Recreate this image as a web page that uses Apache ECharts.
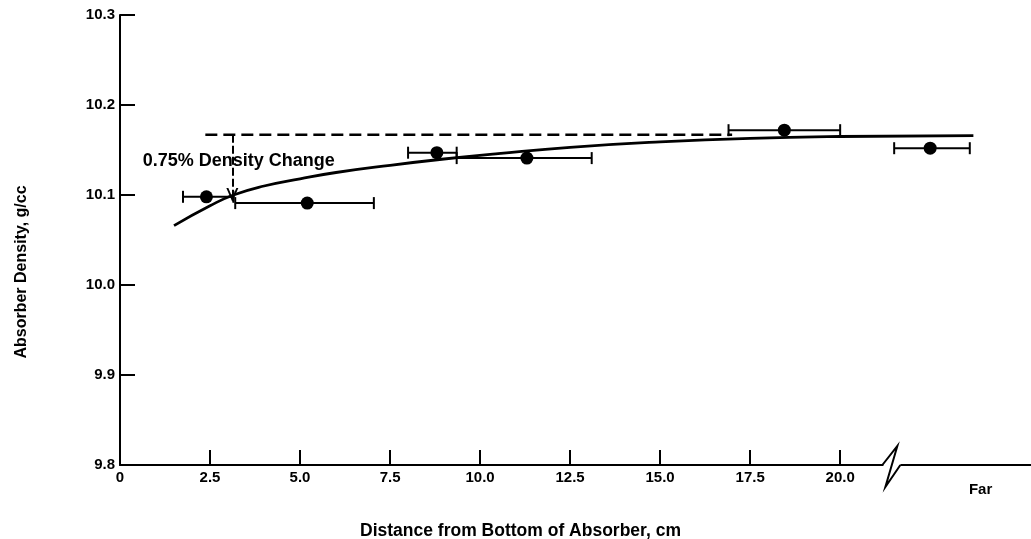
<!DOCTYPE html>
<html>
<head>
<meta charset="utf-8">
<script src="https://cdn.jsdelivr.net/npm/echarts@6/dist/echarts.min.js"></script>
<style>
  html, body { margin: 0; padding: 0; background: #fff; }
  #chart { width: 1031px; height: 539px; }
</style>
</head>
<body>
<div id="chart"></div>
<script>
// measured points with horizontal error bars
const distance = [2.4, 5.2, 8.8, 11.3, 18.45, 22.5]
const density = [10.098, 10.091, 10.147, 10.141, 10.172, 10.152]
const errLow = [1.75, 3.2, 8.0, 9.35, 16.9, 21.5]
const errHigh = [3.15, 7.05, 9.35, 13.1, 20.0, 23.6]

// fitted curve
const fitX = [1.5, 2.5, 3.15, 4, 5, 6, 7.5, 9, 10.5, 12.5, 15, 17.5, 20, 23.7]
const fitY = [10.066, 10.088, 10.100, 10.110, 10.118, 10.125, 10.133, 10.140, 10.146, 10.153, 10.159, 10.163, 10.165, 10.166]

// reference level and the density-change arrow
const refLevelX = [2.37, 17]
const refLevel = 10.167
const changeX = 3.12
const changeTo = 10.1
const changeText = '0.75% Density Change'
const changeLabelAt = [3.3, 10.138]

const xTickValues = [2.5, 5, 7.5, 10, 12.5, 15, 17.5, 20]
const xLabelValues = [0, 2.5, 5, 7.5, 10, 12.5, 15, 17.5, 20, 23.9]
const farLabel = 'Far'
const breakAt = 21.2

const FONT = 'Liberation Sans'
const chart = echarts.init(document.getElementById('chart'))

chart.setOption({
  animation: false,
  grid: { left: 120, right: 0, top: 15, bottom: 74, outerBoundsMode: 'none', containLabel: false },
  xAxis: {
    type: 'value',
    min: 0,
    max: 25.3,
    name: 'Distance from Bottom of Absorber, cm',
    nameLocation: 'middle',
    nameGap: 57,
    nameTextStyle: { fontFamily: FONT, fontWeight: 'bold', fontSize: 17.5, color: '#000', padding: [0, 110, 0, 0] },
    axisLine: { lineStyle: { color: '#000', width: 2 } },
    axisTick: { inside: true, length: 15, customValues: xTickValues, lineStyle: { color: '#000', width: 2 } },
    axisLabel: {
      customValues: xLabelValues,
      margin: 5,
      fontFamily: FONT, fontWeight: 'bold', fontSize: 15, color: '#000',
      formatter: v => v > breakAt ? '{far|' + farLabel + '}' : (v === 0 ? '0' : v.toFixed(1)),
      rich: { far: { fontFamily: FONT, fontWeight: 'bold', fontSize: 15, color: '#000', padding: [12, 0, 0, 0] } }
    },
    splitLine: { show: false }
  },
  yAxis: {
    type: 'value',
    min: 9.8,
    max: 10.3,
    interval: 0.1,
    name: 'Absorber Density, g/cc',
    nameLocation: 'middle',
    nameGap: 90,
    nameTextStyle: { fontFamily: FONT, fontWeight: 'bold', fontSize: 16, color: '#000', padding: [0, 64, 0, 0] },
    axisLine: { lineStyle: { color: '#000', width: 2 } },
    axisTick: { inside: true, length: 15, lineStyle: { color: '#000', width: 2 } },
    axisLabel: {
      margin: 5,
      fontFamily: FONT, fontWeight: 'bold', fontSize: 15, color: '#000',
      formatter: v => v.toFixed(1)
    },
    splitLine: { show: false }
  },
  series: [
    {
      type: 'line',
      data: fitX.map((x, i) => [x, fitY[i]]),
      smooth: true,
      symbol: 'none',
      lineStyle: { color: '#000', width: 2.8 },
      z: 3
    },
    {
      type: 'line',
      data: refLevelX.map(x => [x, refLevel]),
      symbol: 'none',
      lineStyle: { color: '#000', width: 2.5, type: [12, 6] },
      markLine: {
        silent: true,
        symbol: ['none', 'path://M0,12L6,0L12,12L10,12L6,4L2,12Z'],
        symbolSize: [12, 14],
        label: { show: false },
        lineStyle: { color: '#000', width: 2, type: [8, 3] },
        data: [[{ coord: [changeX, refLevel] }, { coord: [changeX, changeTo] }]]
      },
      z: 3
    },
    {
      type: 'custom',
      data: distance.map((x, i) => [errLow[i], errHigh[i], density[i]]),
      renderItem: (params, api) => {
        const a = api.coord([api.value(0), api.value(2)])
        const b = api.coord([api.value(1), api.value(2)])
        const cap = 6
        const st = { stroke: '#000', lineWidth: 2 }
        return {
          type: 'group',
          children: [
            { type: 'line', shape: { x1: a[0], y1: a[1], x2: b[0], y2: b[1] }, style: st },
            { type: 'line', shape: { x1: a[0], y1: a[1] - cap, x2: a[0], y2: a[1] + cap }, style: st },
            { type: 'line', shape: { x1: b[0], y1: b[1] - cap, x2: b[0], y2: b[1] + cap }, style: st }
          ]
        }
      },
      z: 4
    },
    {
      type: 'scatter',
      data: distance.map((x, i) => [x, density[i]]),
      symbol: 'circle',
      symbolSize: 13,
      itemStyle: { color: '#000', opacity: 1 },
      z: 5
    },
    {
      type: 'scatter',
      data: [changeLabelAt],
      symbolSize: 0,
      itemStyle: { opacity: 1 },
      label: {
        show: true,
        position: 'inside',
        formatter: changeText,
        fontFamily: FONT, fontWeight: 'bold', fontSize: 18, color: '#000'
      },
      z: 6
    },
    {
      // axis break mark on the x axis
      type: 'custom',
      clip: false,
      data: [[breakAt, 9.8]],
      renderItem: (params, api) => {
        const p = api.coord([api.value(0), api.value(1)])
        const x = p[0], y = p[1]
        return {
          type: 'group',
          children: [
            { type: 'rect', shape: { x: x, y: y - 3, width: 17, height: 6 }, style: { fill: '#fff' } },
            {
              type: 'polyline',
              shape: { points: [[x - 1, y], [x + 14, y - 19], [x + 2, y + 22], [x + 17, y]] },
              style: { stroke: '#000', lineWidth: 2, fill: null }
            }
          ]
        }
      },
      z: 10
    }
  ]
})
</script>
</body>
</html>
